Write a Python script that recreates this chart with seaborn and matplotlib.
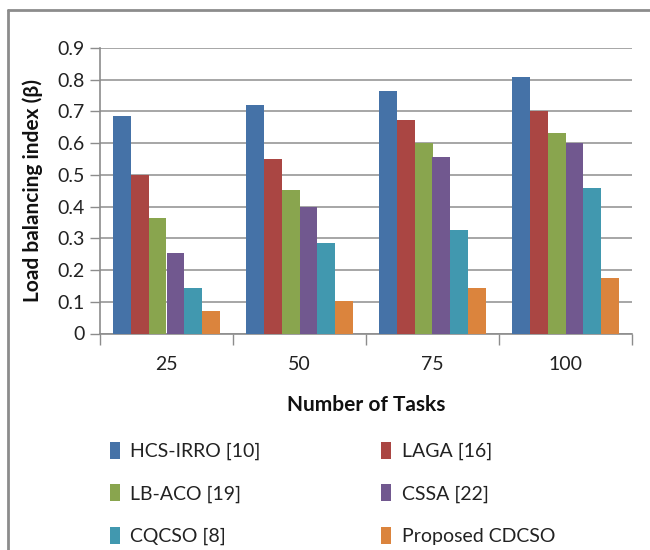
import matplotlib
matplotlib.use("Agg")
import matplotlib.pyplot as plt
from matplotlib.patches import Rectangle
from matplotlib.lines import Line2D
import numpy as np
import pandas as pd
import seaborn as sns

# Data
tasks = ["25", "50", "75", "100"]
methods = ["HCS-IRRO [10]", "LAGA [16]", "LB-ACO [19]", "CSSA [22]",
           "CQCSO [8]", "Proposed CDCSO"]
hcs_irro = [0.686, 0.719, 0.763, 0.808]
laga = [0.500, 0.549, 0.673, 0.701]
lb_aco = [0.363, 0.453, 0.599, 0.631]
cssa = [0.253, 0.400, 0.557, 0.600]
cqcso = [0.142, 0.286, 0.327, 0.460]
cdcso = [0.072, 0.104, 0.142, 0.175]
yticks = [0, 0.1, 0.2, 0.3, 0.4, 0.5, 0.6, 0.7, 0.8, 0.9]
ytick_labels = ["0", "0.1", "0.2", "0.3", "0.4", "0.5", "0.6", "0.7", "0.8", "0.9"]

colors = ["#4572A7", "#AA4643", "#89A54E", "#71588F", "#4198AF", "#DB843D"]

series = [hcs_irro, laga, lb_aco, cssa, cqcso, cdcso]
df = pd.DataFrame({
    "Tasks": np.tile(tasks, len(methods)),
    "Method": np.repeat(methods, len(tasks)),
    "Value": np.concatenate(series),
})

sns.set_style("white")
plt.rcParams["font.family"] = ["Lato", "DejaVu Sans"]

fig = plt.figure(figsize=(6.5, 5.5), dpi=100)
ax = fig.add_axes([100 / 650, 1 - 333.5 / 550, 532 / 650, 285.5 / 550])

sns.barplot(data=df, x="Tasks", y="Value", hue="Method", order=tasks,
            hue_order=methods, palette=colors, width=0.8, saturation=1,
            edgecolor="none", linewidth=0, ax=ax, legend=False, zorder=3)

ax.set_xlim(-0.5, 3.5)
ax.set_ylim(0, 0.9)
ax.set_yticks(yticks)
ax.set_yticklabels(ytick_labels)
ax.yaxis.grid(True, color="#A6A6A6", linewidth=1.4, zorder=0)
ax.set_axisbelow(True)

for side in ["top", "right"]:
    ax.spines[side].set_visible(False)
for side in ["left", "bottom"]:
    ax.spines[side].set_color("#8C8C8C")
    ax.spines[side].set_linewidth(1.2)

ax.tick_params(axis="y", which="major", direction="out", length=7, width=1,
               color="#8C8C8C", labelsize=14, labelcolor="#222222", pad=4,
               left=True)
ax.tick_params(axis="x", which="major", length=0, labelsize=14,
               labelcolor="#222222", pad=16)
ax.set_xticks(np.arange(-0.5, 4.0, 1.0), minor=True)
ax.tick_params(axis="x", which="minor", direction="out", length=8, width=1,
               color="#8C8C8C", bottom=True)

ax.set_xlabel("Number of Tasks", fontsize=15, fontweight="bold",
              color="#111111", labelpad=16)
ax.set_ylabel("Load balancing index (β)", fontsize=15, fontweight="bold",
              color="#111111", labelpad=10)

# Two-column legend below the axes
handles = [Rectangle((0, 0), 1, 1, facecolor=c, edgecolor="none") for c in colors]
order = [0, 2, 4, 1, 3, 5]
leg = fig.legend([handles[i] for i in order], [methods[i] for i in order],
                 ncol=2, loc="upper left", bbox_to_anchor=(102 / 650, 1 - 434 / 550),
                 frameon=False, fontsize=14, handlelength=0.5,
                 handleheight=0.95, handletextpad=0.55, columnspacing=6.2,
                 labelspacing=1.25, borderaxespad=0)
for t in leg.get_texts():
    t.set_color("#222222")

# Outer chart border (left and top edges)
fig.add_artist(Line2D([8 / 650, 8 / 650], [0, 1 - 10 / 550],
                      transform=fig.transFigure, color="#8C8C8C", linewidth=2))
fig.add_artist(Line2D([8 / 650, 1], [1 - 10 / 550, 1 - 10 / 550],
                      transform=fig.transFigure, color="#8C8C8C", linewidth=2))

fig.savefig("out.png", dpi=100)
